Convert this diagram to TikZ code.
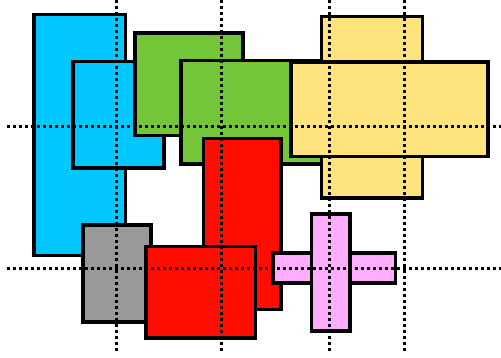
\documentclass[tikz,border=0pt]{standalone}
\definecolor{cblue}{HTML}{00C8FF}
\definecolor{cgreen}{HTML}{74C639}
\definecolor{cred}{HTML}{FF0D00}
\definecolor{cyellow}{HTML}{FFE37D}
\definecolor{cgray}{HTML}{999999}
\definecolor{cpink}{HTML}{FFADFF}
\tikzset{
  box/.style={draw=black, line width=3.5pt, line join=miter},
  guide/.style={draw=black, line width=3pt, dash pattern=on 3pt off 3pt}
}
\begin{document}
\begin{tikzpicture}[x=1pt,y=-1pt]
\useasboundingbox (0,0) rectangle (501,358);
\fill[white] (0,0) rectangle (501,358);
% rectangles in drawing order
\path[box, fill=cblue]   (33.75,14.75) rectangle (125.25,255.75);
\path[box, fill=cblue]   (72.75,61.75) rectangle (163.75,168.25);
\path[box, fill=cgreen]  (134.75,33.25) rectangle (242.75,135.75);
\path[box, fill=cgreen]  (180.75,60.75) rectangle (330,164.25);
\path[box, fill=cred]    (203.25,138.75) rectangle (280.75,309.75);
\path[box, fill=cyellow] (321.25,16.75) rectangle (422.25,198.25);
\path[box, fill=cyellow] (290.75,62.25) rectangle (487.75,156.75);
\path[box, fill=cgray]   (82.75,225.25) rectangle (150.75,321.75);
\path[box, fill=cred]    (145.75,246.75) rectangle (255.25,337.75);
\path[box, fill=cpink]   (272.75,253.25) rectangle (395.25,283.25);
\path[box, fill=cpink]   (311.25,214.25) rectangle (349.75,330.75);
% dotted guide lines
\coordinate (v1t) at (116,0);   \coordinate (v1b) at (116,352);
\coordinate (v2t) at (221,0);   \coordinate (v2b) at (221,352);
\coordinate (v3t) at (329,0);   \coordinate (v3b) at (329,352);
\coordinate (v4t) at (404,0);   \coordinate (v4b) at (404,352);
\coordinate (h1l) at (7,127);   \coordinate (h1r) at (501,127);
\coordinate (h2l) at (7,269);   \coordinate (h2r) at (501,269);
\draw[guide] (v1t) -- (v1b);
\draw[guide] (v2t) -- (v2b);
\draw[guide] (v3t) -- (v3b);
\draw[guide] (v4t) -- (v4b);
\draw[guide] (h1l) -- (h1r);
\draw[guide] (h2l) -- (h2r);
\end{tikzpicture}
\end{document}
